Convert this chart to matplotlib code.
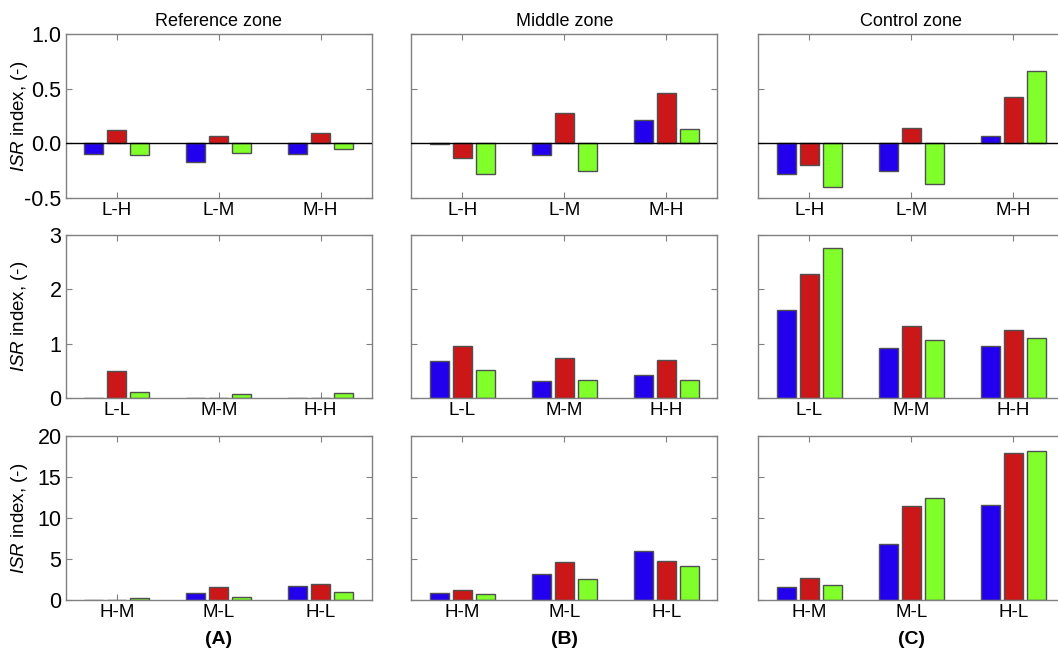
import numpy as np
import matplotlib
matplotlib.use("Agg")
import matplotlib.pyplot as plt

plt.rcParams['font.family'] = ['Liberation Sans', 'DejaVu Sans']
plt.rcParams['mathtext.fontset'] = 'custom'
plt.rcParams['mathtext.rm'] = 'Liberation Sans'
plt.rcParams['mathtext.it'] = 'Liberation Sans:italic'

zones = ["Reference zone", "Middle zone", "Control zone"]
panel_tags = ["(A)", "(B)", "(C)"]

# category labels per row
cats_top = ["L-H", "L-M", "M-H"]
cats_mid = ["L-L", "M-M", "H-H"]
cats_bot = ["H-M", "M-L", "H-L"]

# values per zone (reference, middle, control), three series: blue, red, green
top_blue = [[-0.10, -0.17, -0.10], [-0.01, -0.11, 0.21], [-0.28, -0.25, 0.07]]
top_red = [[0.125, 0.07, 0.09], [-0.13, 0.28, 0.46], [-0.20, 0.14, 0.42]]
top_green = [[-0.11, -0.09, -0.05], [-0.28, -0.25, 0.13], [-0.40, -0.37, 0.66]]

mid_blue = [[0.0, 0.0, 0.0], [0.69, 0.31, 0.43], [1.62, 0.92, 0.95]]
mid_red = [[0.50, 0.0, 0.0], [0.95, 0.74, 0.70], [2.29, 1.33, 1.25]]
mid_green = [[0.11, 0.08, 0.10], [0.52, 0.34, 0.33], [2.76, 1.07, 1.10]]

bot_blue = [[0.0, 0.9, 1.67], [0.86, 3.2, 6.0], [1.6, 6.8, 11.6]]
bot_red = [[0.05, 1.6, 2.0], [1.22, 4.6, 4.8], [2.7, 11.5, 17.9]]
bot_green = [[0.2, 0.4, 1.0], [0.73, 2.57, 4.16], [1.8, 12.4, 18.2]]

rows = [
    (cats_top, top_blue, top_red, top_green, (-0.5, 1.0), [-0.5, 0.0, 0.5, 1.0], ["-0.5", "0.0", "0.5", "1.0"]),
    (cats_mid, mid_blue, mid_red, mid_green, (0, 3), [0, 1, 2, 3], ["0", "1", "2", "3"]),
    (cats_bot, bot_blue, bot_red, bot_green, (0, 20), [0, 5, 10, 15, 20], ["0", "5", "10", "15", "20"]),
]

colors = ["#2200ee", "#cc1719", "#80ff2a"]
edge = "#505050"
spine_col = "#808080"

fig = plt.figure(figsize=(10.58, 6.53), dpi=100)

col_left = [0.0621, 0.3888, 0.7167]
col_w = 0.2892
row_bottom = [0.6968, 0.3905, 0.0812]
row_h = [0.2511, 0.2496, 0.2511]

x = np.arange(1, 4)
offs = [-0.225, 0.0, 0.225]
bw = 0.19

for r, (cats, blue, red, green, ylim, yt, ytl) in enumerate(rows):
    for c in range(3):
        ax = fig.add_axes([col_left[c], row_bottom[r], col_w, row_h[r]])
        for s, vals in enumerate([blue[c], red[c], green[c]]):
            ax.bar(x + offs[s], vals, width=bw, color=colors[s],
                   edgecolor=edge, linewidth=1.0, zorder=2)
        if r == 0:
            ax.axhline(0, color="black", linewidth=1.0, zorder=3)
        ax.set_xlim(0.5, 3.5)
        ax.set_ylim(*ylim)
        ax.set_xticks(x)
        ax.set_xticklabels(cats, fontsize=13.5)
        ax.set_yticks(yt)
        if c == 0:
            ax.set_yticklabels(ytl, fontsize=15.5)
            ax.set_ylabel(r"$\mathit{ISR}$ index, (-)", fontsize=13.5)
            ax.yaxis.set_label_coords(-0.118, 0.5)
        else:
            ax.set_yticklabels([])
        ax.tick_params(direction="in", length=4, width=0.8, color=spine_col,
                       top=True, right=True, pad=3)
        for sp in ax.spines.values():
            sp.set_color(spine_col)
            sp.set_linewidth(1.0)
        if r == 0:
            ax.set_title(zones[c], fontsize=13, pad=6)
        if r == 2:
            ax.text(0.5, -0.24, panel_tags[c], transform=ax.transAxes,
                    ha="center", va="center", fontsize=14, fontweight="bold")

fig.savefig("out.png", dpi=100)
